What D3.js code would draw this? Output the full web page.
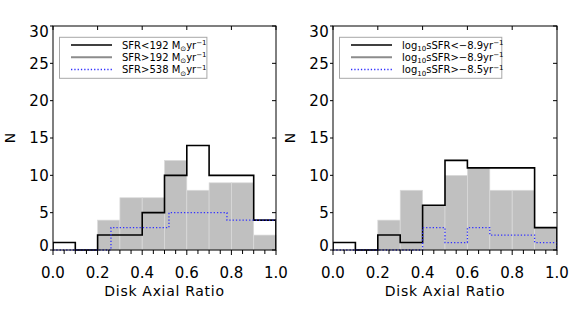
<!DOCTYPE html>
<html><head><meta charset="utf-8">
<script src="https://cdn.jsdelivr.net/npm/d3@7"></script>
<style>body{margin:0;background:#fff} text{font-family:"DejaVu Sans",sans-serif;fill:#000}</style>
</head><body><svg id="c" width="579" height="312"></svg>
<script>
// ---- data ----
const binEdges = [0,0.1,0.2,0.3,0.4,0.5,0.6,0.7,0.8,0.9,1.0];
const sfrLow = [1,0,2,2,5,10,14,10,10,4];
const sfrHigh = [0,0,4,7,7,12,8,9,9,2];
const sfrTopEdges = [0,0.26,0.52,0.78,1.04];
const sfrTop = [0,3,5,4];
const ssfrLow = [1,0,2,1,6,12,11,11,11,3];
const ssfrHigh = [0,0,4,8,6,10,11,8,8,3];
const ssfrTopEdges = binEdges;
const ssfrTop = [0,0,0,0,3,1,3,2,2,1];
const xTicks = [0,0.2,0.4,0.6,0.8,1.0];
const xMinorTicks = [0.05,0.1,0.15,0.25,0.3,0.35,0.45,0.5,0.55,0.65,0.7,0.75,0.85,0.9,0.95];
const yTicks = [0,5,10,15,20,25,30];
const xTitle = "Disk Axial Ratio";
const yTitle = "N";
const legendLeft = [
  [["SFR<192 M",""],["⊙","sub"],["yr",""],["−1","sup"]],
  [["SFR>192 M",""],["⊙","sub"],["yr",""],["−1","sup"]],
  [["SFR>538 M",""],["⊙","sub"],["yr",""],["−1","sup"]]
];
const legendRight = [
  [["log",""],["10","sub"],["sSFR<−8.9yr",""],["−1","sup"]],
  [["log",""],["10","sub"],["sSFR>−8.9yr",""],["−1","sup"]],
  [["log",""],["10","sub"],["sSFR>−8.5yr",""],["−1","sup"]]
];

const svg = d3.select("#c");
const yTop = 26, yBot = 250;
const blue = "#3030ff";

function panel(id, x0, x1, highVals, lowVals, topEdges, topVals, legend, legW){
  const x = d3.scaleLinear().domain([0,1]).range([x0,x1]);
  const y = d3.scaleLinear().domain([0,30]).range([yBot,yTop]);
  const g = svg.append("g");
  g.append("clipPath").attr("id","clip"+id).append("rect")
    .attr("x",x0).attr("y",yTop-3).attr("width",x1-x0).attr("height",yBot-yTop+4);

  // filled histogram
  g.append("g").selectAll("rect").data(highVals.map((v,i)=>({v,a:binEdges[i],b:binEdges[i+1]})).filter(d=>d.v>0))
    .join("rect")
    .attr("x",d=>x(d.a)).attr("width",d=>x(d.b)-x(d.a))
    .attr("y",d=>y(d.v)).attr("height",d=>y(0)-y(d.v))
    .attr("fill","#c0c0c0").attr("stroke","#dadada").attr("stroke-width",0.7);

  const stepPts = (edges, vals) => {
    const p = [[edges[0],0]];
    vals.forEach((v,i)=>{ p.push([edges[i],v]); p.push([edges[i+1],v]); });
    p.push([edges[edges.length-1],0]);
    return p;
  };
  const line = d3.line().x(d=>x(d[0])).y(d=>y(d[1]));
  const cg = g.append("g").attr("clip-path","url(#clip"+id+")");
  cg.append("path").attr("d",line(stepPts(binEdges,lowVals)))
    .attr("fill","none").attr("stroke","#000").attr("stroke-width",1.6);
  cg.append("path").attr("d",line(stepPts(topEdges,topVals)))
    .attr("fill","none").attr("stroke",blue).attr("stroke-width",1.3).attr("stroke-dasharray","1.3,2");

  // frame
  g.append("rect").attr("x",x0).attr("y",yTop).attr("width",x1-x0).attr("height",yBot-yTop)
    .attr("fill","none").attr("stroke","#000").attr("stroke-width",1);

  // ticks
  const tk = g.append("g").attr("stroke","#000").attr("stroke-width",1);
  xTicks.forEach(t=>{
    tk.append("line").attr("x1",x(t)).attr("x2",x(t)).attr("y1",yBot).attr("y2",yBot+5);
    tk.append("line").attr("x1",x(t)).attr("x2",x(t)).attr("y1",yTop).attr("y2",yTop+4);
  });
  xMinorTicks.forEach(t=>{
    tk.append("line").attr("x1",x(t)).attr("x2",x(t)).attr("y1",yBot).attr("y2",yBot+4);
  });
  yTicks.forEach(t=>{
    tk.append("line").attr("x1",x0-3).attr("x2",x0).attr("y1",y(t)).attr("y2",y(t));
    tk.append("line").attr("x1",x1-4).attr("x2",x1).attr("y1",y(t)).attr("y2",y(t));
  });

  // tick labels
  g.append("g").selectAll("text").data(xTicks).join("text")
    .attr("x",d=>x(d)).attr("y",278).attr("text-anchor","middle")
    .attr("font-size",15).text(d=>d.toFixed(1));
  g.append("g").selectAll("text").data(yTicks).join("text")
    .attr("x",x0-3.5).attr("y",d=>Math.max(yTop+5.5,Math.min(yBot-4.5,y(d)))+5.3)
    .attr("text-anchor","end").attr("font-size",15).attr("letter-spacing",0.6).text(d=>d);

  g.append("text").attr("x",(x0+x1)/2).attr("y",296).attr("text-anchor","middle")
    .attr("font-size",14).attr("letter-spacing",0.7).text(xTitle);
  g.append("text").attr("transform",`translate(${x0-38},${(yTop+yBot)/2}) rotate(-90)`)
    .attr("text-anchor","middle").attr("font-size",14).text(yTitle);

  // legend
  const lx = x0+6.5, ly = 37.3;
  g.append("rect").attr("x",lx).attr("y",ly).attr("width",legW).attr("height",41)
    .attr("fill","#fff").attr("stroke","#a8a8a8").attr("stroke-width",1);
  const styles = [
    {c:"#000",w:1.5,d:null},
    {c:"#8c8c8c",w:2,d:null},
    {c:blue,w:1.3,d:"1.3,2"}
  ];
  const rows = [45,57.3,69.5];
  legend.forEach((segs,i)=>{
    const s = styles[i];
    const ln = g.append("line").attr("x1",x0+18).attr("x2",x0+59).attr("y1",rows[i]).attr("y2",rows[i])
      .attr("stroke",s.c).attr("stroke-width",s.w);
    if(s.d) ln.attr("stroke-dasharray",s.d);
    const t = g.append("text").attr("x",x0+69).attr("y",rows[i]+3.6).attr("font-size",10);
    let shift = 0;
    segs.forEach(([txt,kind])=>{
      const target = kind==="sub"?2.5:kind==="sup"?-3.5:0;
      const ts = t.append("tspan").attr("dy",target-shift).text(txt);
      if(kind) ts.attr("font-size",7);
      shift = target;
    });
  });
}

panel("L",53,276,sfrHigh,sfrLow,sfrTopEdges,sfrTop,legendLeft,147.4);
panel("R",333,557,ssfrHigh,ssfrLow,ssfrTopEdges,ssfrTop,legendRight,162.3);
</script></body></html>
